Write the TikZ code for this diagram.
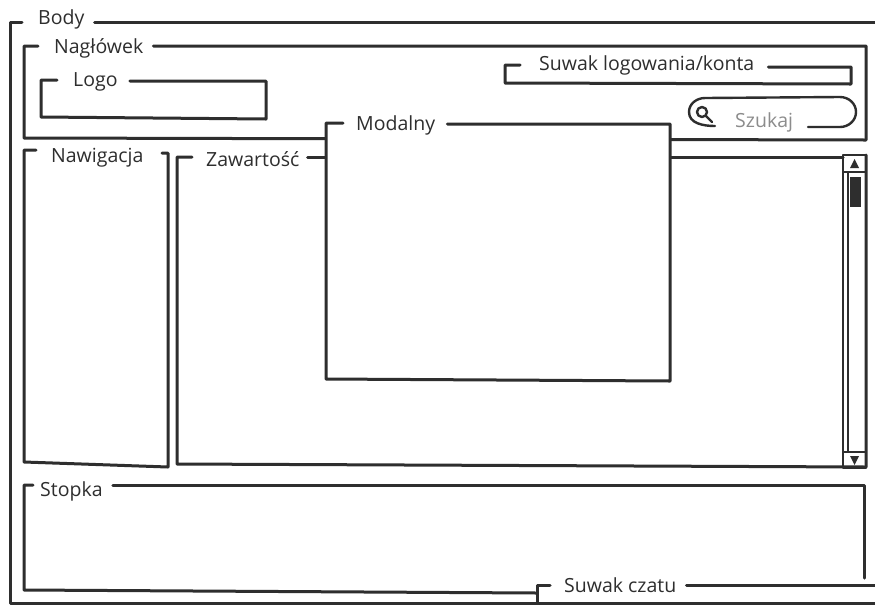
\documentclass[tikz,border=0pt]{standalone}
\usepackage{fontspec}
\setmainfont{Open Sans}
\begin{document}
\begin{tikzpicture}[x=1pt, y=-1pt,
    wire/.style={line width=3pt, line join=round, line cap=round, draw=black!82},
    thin wire/.style={line width=1.8pt, line join=round, draw=black!82},
    tag/.style={anchor=base west, inner sep=0pt, font=\fontsize{19.5}{22}\selectfont, text=black!82}]
      \useasboundingbox (0,0) rectangle (875,606);
      \clip (0,0) rectangle (875,606);
      \fill[white] (0,0) rectangle (875,606);

      % Body
      \coordinate (b1) at (10,22);
      \coordinate (b2) at (10,603);
      \coordinate (b3) at (890,603);
      \coordinate (b4) at (890,22);
      \node[tag] (tBody) at (38,24) {Body};
      \draw[wire] ([xshift=10pt]tBody.east |- b4) -- (b4) -- (b3) -- (b2) -- (b1) -- ++(12,0);

      % Naglowek
      \coordinate (h1) at (24,46);
      \coordinate (h2) at (24,138);
      \coordinate (h3) at (866,140);
      \coordinate (h4) at (866,46);
      \node[tag] (tHead) at (54,53) {Nagłówek};
      \draw[wire] ([xshift=10pt]tHead.east |- h4) -- (h4) -- (h3) -- (h2) -- (h1) -- ++(14,0);

      % Logo
      \coordinate (g1) at (41,80);
      \coordinate (g2) at (41,117);
      \coordinate (g3) at (266,119);
      \coordinate (g4) at (266,81);
      \node[tag] (tLogo) at (73,86) {Logo};
      \draw[wire] ([xshift=12pt]tLogo.east |- g4) -- (g4) -- (g3) -- (g2) -- (g1) -- ++(16,0);

      % Suwak logowania/konta
      \coordinate (k1) at (505,65);
      \coordinate (k2) at (505,83);
      \coordinate (k3) at (851,84);
      \coordinate (k4) at (851,67);
      \node[tag] (tKonto) at (539,70) {Suwak logowania/konta};
      \draw[wire] ([xshift=14pt]tKonto.east |- k4) -- (k4) -- (k3) -- (k2) -- (k1) -- ++(15,0);

      % Szukaj
      \node[tag, text=black!45] (tSzukaj) at (735,127) {Szukaj};
      \draw[wire, line width=2.4pt] (715,126) to[out=180, in=270] (689,112) to[out=90, in=180] (705,98)
        -- (840,97) to[out=0, in=90] (856,112) to[out=270, in=0] (840,127) -- (808,127);
      \draw[wire, line width=2.4pt] (702,112) circle (5) (706,116) -- (712,122);

      % Nawigacja
      \coordinate (n1) at (24,150);
      \coordinate (n2) at (24,462);
      \coordinate (n3) at (168,467);
      \coordinate (n4) at (168,153);
      \node[tag] (tNav) at (51,162) {Nawigacja};
      \draw[wire] (n1) ++(12,0) -- (n1) -- (n2) -- (n3) -- (n4) -- ++(-6,0);

      % Zawartosc
      \coordinate (z1) at (177,157);
      \coordinate (z2) at (177,464);
      \coordinate (z3) at (866,467);
      \coordinate (z4) at (866,155);
      \node[tag] (tCont) at (206,166) {Zawartość};
      \draw[wire] (z1) ++(15,0) -- (z1) -- (z2) -- (z3) -- (z4);
      \draw[wire] ([xshift=8pt]tCont.east |- z1) -- (843,157);

      % pasek przewijania
      \draw[thin wire] (843,155) rectangle (866,468);
      \draw[thin wire] (843,172) -- (866,172) (848,172) -- (848,452) (843,452) -- (866,452);
      \fill[black!82] (850,177) rectangle (861,207);
      \fill[black!82] (854.5,159) -- (850,168) -- (859,168) -- cycle;
      \fill[black!82] (850,456) -- (859,456) -- (854.5,465) -- cycle;

      % Stopka
      \coordinate (f1) at (24,485);
      \coordinate (f2) at (24,590);
      \coordinate (f3) at (537,593);
      \coordinate (f4) at (864,485);
      \node[tag] (tFoot) at (40,496) {Stopka};
      \draw[wire] ([xshift=10pt]tFoot.east |- f4) -- (f4) -- ++(0,93);
      \draw[wire] (f1) ++(9,0) -- (f1) -- (f2) -- (f3);

      % Suwak czatu
      \coordinate (c1) at (537,585);
      \coordinate (c2) at (537,603);
      \node[tag] (tChat) at (564,592) {Suwak czatu};
      \draw[wire] (c1) ++(13,0) -- (c1) -- (c2);
      \draw[wire] ([xshift=10pt]tChat.east |- c1) -- (880,585);

      % Modalny
      \coordinate (m1) at (326,123);
      \coordinate (m2) at (326,379);
      \coordinate (m3) at (670,381);
      \coordinate (m4) at (670,124);
      \fill[white] (m1) -- (m2) -- (m3) -- (m4) -- cycle;
      \node[tag] (tModal) at (356,130) {Modalny};
      \draw[wire] ([xshift=12pt]tModal.east |- m4) -- (m4) -- (m3) -- (m2) -- (m1) -- ++(17,0);
\end{tikzpicture}
\end{document}
